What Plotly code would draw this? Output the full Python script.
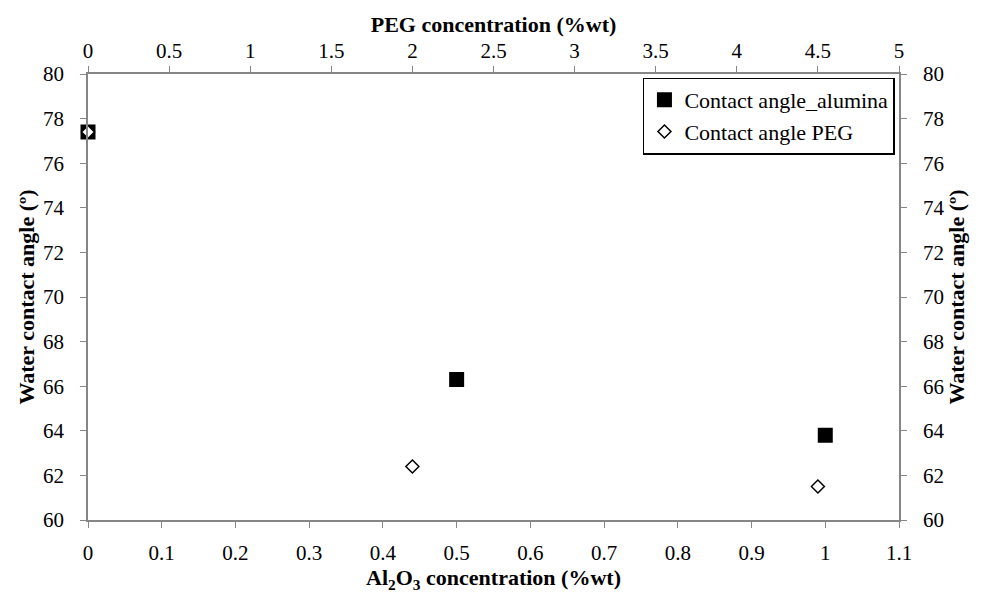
import plotly.graph_objects as go

alumina_conc = [0, 0.5, 1.0]
alumina_angle = [77.4, 66.3, 63.8]
peg_conc = [0, 2.0, 4.5]
peg_angle = [77.4, 62.4, 61.5]

FONT = "Times New Roman, Liberation Serif, DejaVu Serif, serif"
AX = "#868686"

fig = go.Figure()
fig.add_trace(go.Scatter(
    x=alumina_conc, y=alumina_angle, mode="markers", name="Contact angle_alumina",
    marker=dict(symbol="square", size=15, color="black"), xaxis="x", yaxis="y",
    cliponaxis=False))
fig.add_trace(go.Scatter(
    x=peg_conc, y=peg_angle, mode="markers", name="Contact angle PEG",
    marker=dict(symbol="diamond", size=10, color="white", line=dict(width=1.5, color="black")),
    xaxis="x2", yaxis="y2", cliponaxis=False))

common = dict(showline=True, linecolor=AX, linewidth=1.5, ticks="outside", tickcolor=AX,
              ticklen=6, tickwidth=1, showgrid=False, zeroline=False,
              tickfont=dict(family=FONT, size=21, color="black"))
ytitle = "<b>Water contact angle (º)</b>"
TS = 22

fig.update_layout(
    width=993, height=606, plot_bgcolor="white", paper_bgcolor="white",
    margin=dict(l=80, r=102, t=66, b=94),
    font=dict(family=FONT, color="black"),
    xaxis=dict(range=[0, 1.1], dtick=0.1, tick0=0, side="bottom", ticklabelstandoff=7,
               title=dict(text="<b>Al<sub>2</sub>O<sub>3</sub> concentration (%wt)</b>",
                          font=dict(family=FONT, size=TS), standoff=4),
               tickformat="~g", **common),
    xaxis2=dict(range=[0, 5], dtick=0.5, tick0=0, side="top", overlaying="x",
                title=dict(text="<b>PEG concentration (%wt)</b>",
                           font=dict(family=FONT, size=TS), standoff=0),
                tickformat="~g", **common),
    yaxis=dict(range=[60, 80], dtick=2, side="left", ticklabelstandoff=12,
               title=dict(text=ytitle, font=dict(family=FONT, size=TS), standoff=2), **common),
    yaxis2=dict(range=[60, 80], dtick=2, side="right", overlaying="y", ticklabelstandoff=12,
                title=dict(text=ytitle, font=dict(family=FONT, size=TS), standoff=2), **common),
    legend=dict(x=0.995, y=0.992, xanchor="right", yanchor="top",
                bgcolor="white", bordercolor="black", borderwidth=1.5,
                font=dict(family=FONT, size=22, color="black"),
                tracegroupgap=4, itemwidth=30),
    showlegend=True,
)

fig.write_html("out.html")
